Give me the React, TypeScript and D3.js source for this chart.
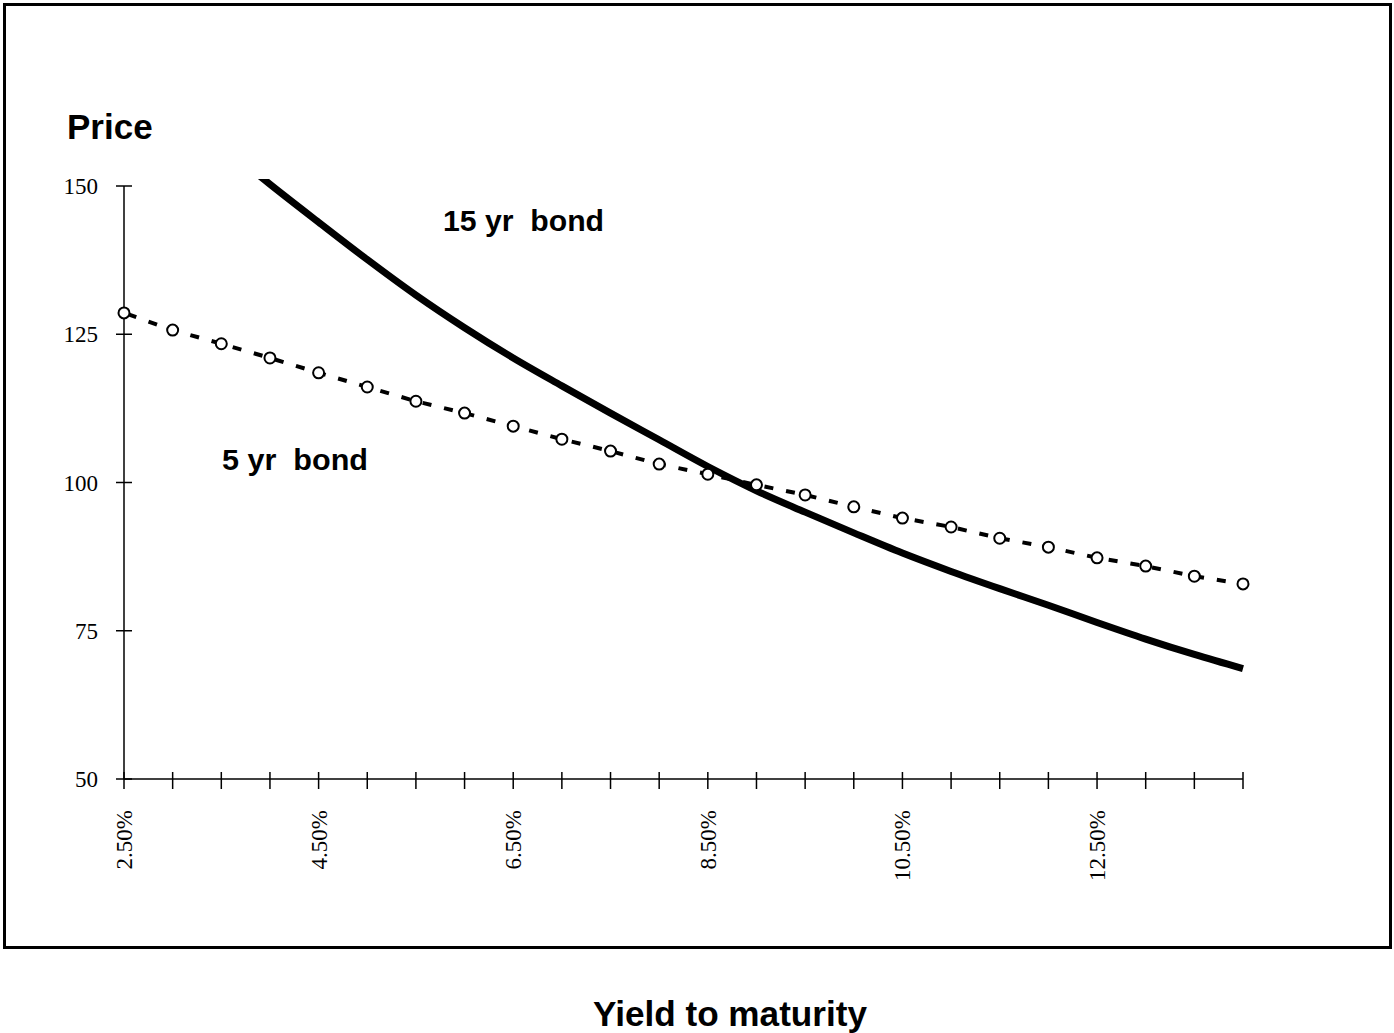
import { useRef, useEffect } from 'react';
import * as d3 from 'd3';

// yields in percent, every half point
const yields5 = [2.5, 3, 3.5, 4, 4.5, 5, 5.5, 6, 6.5, 7, 7.5, 8, 8.5, 9, 9.5, 10, 10.5, 11, 11.5, 12, 12.5, 13, 13.5, 14];
const price5 = [128.6, 125.7, 123.4, 121.0, 118.5, 116.1, 113.7, 111.7, 109.5, 107.3, 105.3, 103.1, 101.4, 99.6, 97.9, 95.9, 94.0, 92.5, 90.6, 89.1, 87.3, 85.9, 84.2, 82.9];

const yields15 = [3.5, 4, 4.5, 5, 5.5, 6, 6.5, 7, 7.5, 8, 8.5, 9, 9.5, 10, 10.5, 11, 11.5, 12, 12.5, 13, 13.5, 14];
const price15 = [157.0, 150.3, 143.9, 137.6, 131.6, 126.1, 121.0, 116.3, 111.7, 107.2, 102.7, 98.6, 95.0, 91.5, 88.1, 85.0, 82.1, 79.3, 76.4, 73.6, 71.0, 68.6];

const yTicks = [50, 75, 100, 125, 150];
const xTicks = d3.range(2.5, 14.01, 0.5);
const xLabels = [2.5, 4.5, 6.5, 8.5, 10.5, 12.5];

const BondPriceChart = () => {

    const svgRef = useRef<SVGSVGElement | null>(null);

    const renderChart = () => {
        const svgElement = svgRef.current;
        if (!svgElement) return;

        const width = 1394;
        const height = 1033;
        const margin = { top: 186, right: 151, bottom: 254, left: 124 };

        const svg = d3.select(svgElement)
            .attr('width', width)
            .attr('height', height);

        svg.selectAll('*').remove();

        const x = d3.scaleLinear()
            .domain([2.5, 14])
            .range([margin.left, width - margin.right]);

        const y = d3.scaleLinear()
            .domain([50, 150])
            .range([height - margin.bottom, margin.top]);

        // outer frame
        svg.append('rect')
            .attr('x', 4.5)
            .attr('y', 4.5)
            .attr('width', 1386)
            .attr('height', 943)
            .attr('fill', 'none')
            .attr('stroke', '#000')
            .attr('stroke-width', 3);

        const serif = '"Liberation Serif", "DejaVu Serif", serif';
        const sans = '"Liberation Sans", Arial, sans-serif';

        // y axis
        svg.append('line')
            .attr('x1', x(2.5)).attr('x2', x(2.5))
            .attr('y1', y(150)).attr('y2', y(50))
            .attr('stroke', '#000')
            .attr('stroke-width', 1.5);

        svg.append('g')
            .selectAll('line')
            .data(yTicks)
            .join('line')
            .attr('x1', x(2.5) - 8)
            .attr('x2', x(2.5) + 8)
            .attr('y1', d => y(d))
            .attr('y2', d => y(d))
            .attr('stroke', '#000')
            .attr('stroke-width', 1.5);

        svg.append('g')
            .selectAll('text')
            .data(yTicks)
            .join('text')
            .attr('x', 98)
            .attr('y', d => y(d) + 8)
            .attr('text-anchor', 'end')
            .style('font-family', serif)
            .style('font-size', '23px')
            .text(d => d);

        // x axis
        svg.append('line')
            .attr('x1', x(2.5)).attr('x2', x(14))
            .attr('y1', y(50)).attr('y2', y(50))
            .attr('stroke', '#000')
            .attr('stroke-width', 1.5);

        svg.append('g')
            .selectAll('line')
            .data(xTicks)
            .join('line')
            .attr('x1', d => x(d))
            .attr('x2', d => x(d))
            .attr('y1', y(50) - 7)
            .attr('y2', y(50) + 10)
            .attr('stroke', '#000')
            .attr('stroke-width', 1.5);

        svg.append('g')
            .selectAll('text')
            .data(xLabels)
            .join('text')
            .attr('transform', d => `translate(${x(d) + 8}, 810) rotate(-90)`)
            .attr('text-anchor', 'end')
            .style('font-family', serif)
            .style('font-size', '23px')
            .text(d => d3.format('.2f')(d) + '%');

        // 15 yr bond, clipped at top of plot
        svg.append('clipPath')
            .attr('id', 'plot-clip')
            .append('rect')
            .attr('x', x(2.5))
            .attr('y', y(151.2))
            .attr('width', x(14) - x(2.5) + 10)
            .attr('height', y(50) - y(151.2));

        const line15 = d3.line<number>()
            .x((_, i) => x(yields15[i]))
            .y(d => y(d))
            .curve(d3.curveMonotoneX);

        svg.append('path')
            .datum(price15)
            .attr('clip-path', 'url(#plot-clip)')
            .attr('fill', 'none')
            .attr('stroke', '#000')
            .attr('stroke-width', 7)
            .attr('d', line15);

        // 5 yr bond
        const line5 = d3.line<number>()
            .x((_, i) => x(yields5[i]))
            .y(d => y(d));

        svg.append('path')
            .datum(price5)
            .attr('fill', 'none')
            .attr('stroke', '#000')
            .attr('stroke-width', 4)
            .attr('stroke-dasharray', '9,13')
            .attr('stroke-dashoffset', -4)
            .attr('d', line5);

        svg.append('g')
            .selectAll('circle')
            .data(price5)
            .join('circle')
            .attr('cx', (_, i) => x(yields5[i]))
            .attr('cy', d => y(d))
            .attr('r', 5.5)
            .attr('fill', '#fff')
            .attr('stroke', '#000')
            .attr('stroke-width', 2);

        svg.append('text')
            .attr('x', 67)
            .attr('y', 139)
            .style('font-family', sans)
            .style('font-weight', 'bold')
            .style('font-size', '35px')
            .text('Price');

        svg.append('text')
            .attr('x', 443)
            .attr('y', 231)
            .attr('textLength', 161)
            .attr('lengthAdjust', 'spacingAndGlyphs')
            .style('font-family', sans)
            .style('font-weight', 'bold')
            .style('font-size', '29px')
            .style('white-space', 'pre')
            .text('15 yr  bond');

        svg.append('text')
            .attr('x', 222)
            .attr('y', 470)
            .attr('textLength', 146)
            .attr('lengthAdjust', 'spacingAndGlyphs')
            .style('font-family', sans)
            .style('font-weight', 'bold')
            .style('font-size', '29px')
            .style('white-space', 'pre')
            .text('5 yr  bond');

        svg.append('text')
            .attr('x', 730)
            .attr('y', 1026)
            .attr('text-anchor', 'middle')
            .attr('textLength', 274)
            .attr('lengthAdjust', 'spacingAndGlyphs')
            .style('font-family', sans)
            .style('font-weight', 'bold')
            .style('font-size', '35px')
            .text('Yield to maturity');
    };

    useEffect(() => {
        renderChart();
    }, []);

    return (
        <div style={{ position: 'absolute', left: 0, top: 0, width: 1394, height: 1033, background: '#fff' }}>
            <svg ref={svgRef} style={{ display: 'block' }}></svg>
        </div>
    );
};

export default BondPriceChart
